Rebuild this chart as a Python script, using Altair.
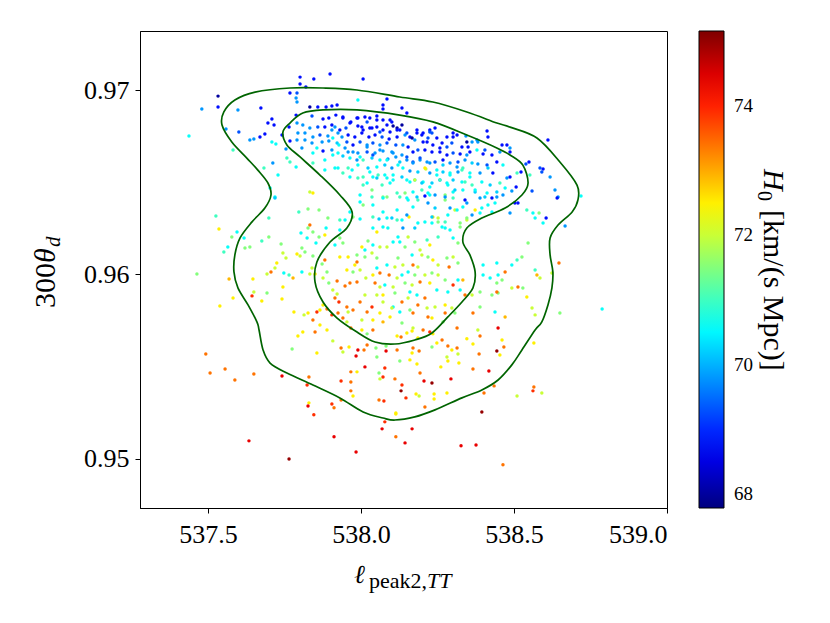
import altair as alt
import pandas as pd

# ---- sample points: (ell_peak2_TT, 300*theta_d, H0) ----
pts_upper_left = [
    (537.533, 0.96967, 68.0), (537.533, 0.96908, 68.8), (537.480, 0.96897, 69.8), (537.598, 0.96892, 69.8),
    (537.673, 0.96902, 68.8), (537.709, 0.96843, 68.8), (537.696, 0.96821, 68.8), (537.716, 0.96810, 68.8),
    (537.559, 0.96789, 69.8), (537.601, 0.96772, 69.3), (537.438, 0.96751, 70.6), (537.686, 0.96762, 68.8),
    (537.670, 0.96745, 68.8), (537.637, 0.96729, 69.8), (537.650, 0.96734, 69.8), (537.742, 0.96756, 68.8),
    (537.709, 0.96718, 70.6), (537.722, 0.96707, 70.6), (537.582, 0.96675, 71.0), (537.755, 0.96680, 69.8),
    (537.758, 0.96631, 71.0), (537.712, 0.96604, 69.8), (537.683, 0.96577, 71.0), (537.729, 0.96539, 70.6),
    (537.719, 0.96420, 70.6), (537.703, 0.96469, 70.6), (537.768, 0.96984, 68.8), (537.765, 0.96799, 68.8),
    (537.768, 0.96724, 68.8), (537.801, 0.97070, 68.8),
]

pts_top_band = [
    (537.899, 0.97087, 68.8), (537.846, 0.97060, 68.8), (538.007, 0.97060, 68.8), (537.801, 0.97033, 68.8),
    (537.820, 0.97016, 68.8), (537.791, 0.96984, 69.3), (537.788, 0.96957, 69.8), (537.791, 0.96935, 69.8),
    (537.990, 0.96946, 70.6), (538.085, 0.96951, 68.8), (537.833, 0.96908, 68.0), (537.859, 0.96908, 68.8),
    (537.886, 0.96908, 68.8), (537.905, 0.96913, 68.8), (537.922, 0.96919, 68.8), (538.072, 0.96919, 68.8),
    (538.072, 0.96897, 68.8), (537.788, 0.96864, 68.8), (537.840, 0.96859, 69.3), (537.876, 0.96843, 68.8),
    (537.895, 0.96848, 68.8), (537.918, 0.96864, 68.8), (537.941, 0.96848, 68.8), (537.967, 0.96827, 68.8),
    (537.990, 0.96848, 68.8), (538.013, 0.96854, 68.8), (538.029, 0.96848, 68.8), (538.052, 0.96859, 68.8),
    (538.072, 0.96837, 68.8), (538.095, 0.96837, 68.8), (538.105, 0.96805, 68.0), (538.118, 0.96794, 68.0),
    (537.791, 0.96821, 69.8), (537.810, 0.96810, 69.8), (537.833, 0.96794, 69.8), (537.859, 0.96799, 69.3),
    (537.882, 0.96799, 68.8), (537.905, 0.96783, 69.8), (537.931, 0.96783, 68.8), (537.951, 0.96794, 69.3),
    (537.990, 0.96805, 68.8), (538.007, 0.96783, 68.8), (538.029, 0.96794, 68.8), (538.052, 0.96799, 68.8),
    (538.072, 0.96783, 68.8), (538.095, 0.96772, 68.8), (537.794, 0.96767, 69.8), (537.817, 0.96767, 69.8),
    (537.843, 0.96745, 69.8), (537.866, 0.96756, 69.3), (537.892, 0.96751, 69.8), (537.908, 0.96740, 70.6),
    (537.938, 0.96745, 69.8), (537.958, 0.96756, 68.8), (537.980, 0.96745, 68.8), (538.003, 0.96767, 68.8),
    (538.026, 0.96745, 68.8), (538.046, 0.96756, 68.8), (538.069, 0.96745, 69.3), (538.092, 0.96734, 68.8),
    (538.118, 0.96745, 68.8), (537.791, 0.96729, 69.8), (537.817, 0.96729, 69.8), (537.840, 0.96713, 69.8),
    (537.873, 0.96718, 69.8), (537.895, 0.96724, 69.8), (537.928, 0.96702, 70.6), (537.954, 0.96718, 69.3),
    (537.974, 0.96702, 68.8), (537.997, 0.96718, 69.3), (538.020, 0.96702, 69.8), (538.039, 0.96713, 69.3),
    (538.062, 0.96702, 69.8), (538.085, 0.96713, 69.3), (538.114, 0.96702, 69.3), (537.807, 0.96686, 69.8),
    (537.856, 0.96686, 70.6), (537.876, 0.96669, 68.8), (537.905, 0.96675, 69.8), (537.925, 0.96659, 70.6),
    (537.958, 0.96664, 69.8), (537.990, 0.96659, 69.8), (538.020, 0.96664, 69.3), (538.046, 0.96659, 69.8),
    (538.072, 0.96669, 69.8), (538.101, 0.96664, 69.8), (537.843, 0.96659, 70.6), (537.882, 0.96621, 70.6),
    (537.908, 0.96648, 70.6), (537.941, 0.96642, 70.2), (537.964, 0.96631, 70.6), (537.987, 0.96621, 69.8),
    (538.007, 0.96621, 71.0), (538.036, 0.96631, 70.2), (538.062, 0.96621, 70.6), (538.088, 0.96626, 69.8),
    (538.114, 0.96637, 69.8), (537.768, 0.96610, 71.0), (537.788, 0.96583, 70.6), (537.843, 0.96604, 71.0),
    (537.882, 0.96566, 70.6), (537.925, 0.96577, 70.6), (537.958, 0.96577, 71.0), (537.990, 0.96594, 70.6),
    (538.023, 0.96577, 70.2), (538.052, 0.96583, 70.6), (538.078, 0.96594, 70.2), (538.101, 0.96577, 69.8),
    (538.121, 0.96594, 70.6), (537.964, 0.96528, 70.6), (537.990, 0.96523, 71.0), (538.039, 0.96528, 70.6),
    (538.056, 0.96539, 71.0), (538.085, 0.96523, 70.6), (538.105, 0.96539, 70.6), (538.020, 0.96496, 70.6),
    (538.069, 0.96485, 71.0), (538.095, 0.96496, 70.6), (537.833, 0.96447, 72.0), (537.843, 0.96442, 72.5),
    (537.997, 0.96431, 70.6), (538.036, 0.96420, 71.0), (538.085, 0.96420, 71.5), (538.127, 0.96420, 71.0),
]

pts_top_right = [
    (538.134, 0.96902, 68.8), (538.150, 0.96875, 68.8), (538.127, 0.96783, 68.8), (538.144, 0.96756, 69.8),
    (538.160, 0.96745, 68.8), (538.183, 0.96767, 68.8), (538.203, 0.96767, 68.8), (538.225, 0.96783, 68.8),
    (538.242, 0.96794, 68.8), (538.232, 0.96767, 69.3), (538.176, 0.96729, 69.8), (538.203, 0.96718, 68.8),
    (538.219, 0.96740, 69.3), (538.235, 0.96702, 68.8), (538.258, 0.96686, 68.8), (538.281, 0.96691, 69.3),
    (538.301, 0.96745, 68.8), (538.301, 0.96767, 68.8), (538.343, 0.96751, 69.8), (538.350, 0.96691, 68.8),
    (538.363, 0.96718, 69.8), (538.382, 0.96718, 69.8), (538.412, 0.96778, 68.8), (538.415, 0.96745, 68.8),
    (538.405, 0.96675, 69.3), (538.461, 0.96702, 68.8), (538.477, 0.96702, 68.8), (538.137, 0.96702, 69.8),
    (538.154, 0.96691, 68.8), (538.170, 0.96664, 68.8), (538.186, 0.96675, 69.3), (538.209, 0.96675, 68.8),
    (538.232, 0.96664, 68.8), (538.258, 0.96664, 68.8), (538.281, 0.96648, 68.8), (538.301, 0.96659, 69.3),
    (538.324, 0.96653, 68.8), (538.346, 0.96648, 69.8), (538.379, 0.96675, 70.6), (538.399, 0.96653, 68.8),
    (538.428, 0.96648, 68.8), (538.454, 0.96664, 69.8), (538.134, 0.96648, 69.8), (538.150, 0.96621, 69.8),
    (538.170, 0.96610, 69.3), (538.193, 0.96621, 69.8), (538.216, 0.96610, 69.8), (538.242, 0.96610, 69.3),
    (538.268, 0.96621, 68.8), (538.291, 0.96604, 69.8), (538.317, 0.96610, 69.3), (538.340, 0.96621, 69.8),
    (538.363, 0.96604, 70.2), (538.382, 0.96599, 69.8), (538.412, 0.96594, 69.3), (538.444, 0.96610, 68.8),
    (538.464, 0.96594, 70.6), (538.137, 0.96577, 70.6), (538.160, 0.96561, 69.8), (538.186, 0.96556, 70.2),
    (538.212, 0.96572, 72.0), (538.225, 0.96550, 69.8), (538.248, 0.96539, 70.6), (538.268, 0.96556, 70.2),
    (538.291, 0.96539, 70.6), (538.317, 0.96556, 69.8), (538.333, 0.96577, 71.0), (538.356, 0.96528, 70.6),
    (538.389, 0.96550, 69.8), (538.415, 0.96577, 70.2), (538.431, 0.96550, 68.8), (538.454, 0.96496, 71.0),
    (538.477, 0.96523, 69.8), (538.150, 0.96512, 70.6), (538.176, 0.96512, 70.6), (538.203, 0.96501, 70.6),
    (538.232, 0.96496, 70.2), (538.258, 0.96512, 69.8), (538.281, 0.96496, 70.6), (538.301, 0.96512, 70.2),
    (538.330, 0.96501, 70.6), (538.363, 0.96485, 71.0), (538.395, 0.96501, 70.6), (538.422, 0.96485, 70.2),
    (538.144, 0.96442, 71.5), (538.170, 0.96447, 70.6), (538.199, 0.96458, 71.0), (538.219, 0.96442, 70.6),
    (538.275, 0.96431, 71.5), (538.301, 0.96447, 70.6), (538.333, 0.96458, 70.6), (538.373, 0.96447, 70.2),
    (538.412, 0.96442, 70.6), (538.444, 0.96447, 70.2), (538.471, 0.96469, 70.6),
]

pts_far_right = [
    (538.611, 0.96729, 68.8), (538.487, 0.96686, 69.8), (538.487, 0.96664, 68.8), (538.539, 0.96599, 69.3),
    (538.549, 0.96610, 68.8), (538.585, 0.96577, 69.3), (538.595, 0.96572, 68.8), (538.591, 0.96556, 69.3),
    (538.618, 0.96528, 69.8), (538.523, 0.96556, 68.8), (538.510, 0.96550, 71.0), (538.552, 0.96539, 71.0),
    (538.487, 0.96528, 68.8), (538.507, 0.96474, 68.8), (538.493, 0.96453, 69.8), (538.559, 0.96453, 69.3),
    (538.634, 0.96458, 69.8), (538.644, 0.96420, 69.8), (538.719, 0.96425, 70.6),
]

pts_core = [
    (537.905, 0.96810, 68.8), (537.915, 0.96799, 69.8), (537.941, 0.96854, 68.8), (537.925, 0.96767, 69.8),
    (537.964, 0.96821, 68.8), (537.987, 0.96848, 68.8), (538.003, 0.96799, 68.8), (538.020, 0.96827, 69.3),
    (538.036, 0.96794, 68.8), (538.052, 0.96837, 68.8), (538.062, 0.96772, 69.3), (538.085, 0.96810, 68.8),
    (538.101, 0.96827, 68.8), (538.118, 0.96783, 68.8), (538.134, 0.96810, 68.0), (538.150, 0.96767, 69.3),
    (538.167, 0.96740, 68.0), (538.183, 0.96783, 68.8), (538.199, 0.96756, 68.8), (538.216, 0.96718, 68.8),
    (538.225, 0.96772, 69.3), (538.248, 0.96740, 68.8), (538.265, 0.96713, 68.8), (538.281, 0.96745, 68.8),
    (538.297, 0.96713, 69.3), (538.314, 0.96756, 68.8), (538.330, 0.96691, 68.8), (538.346, 0.96718, 68.0),
    (538.356, 0.96664, 68.8), (538.379, 0.96729, 69.8), (537.922, 0.96713, 70.2), (537.948, 0.96686, 69.8),
    (537.974, 0.96664, 69.8), (537.997, 0.96637, 70.6), (538.020, 0.96691, 69.8), (538.039, 0.96648, 69.3),
    (538.062, 0.96675, 69.8), (538.085, 0.96621, 70.6), (538.105, 0.96659, 69.8), (538.127, 0.96610, 70.2),
    (538.150, 0.96637, 69.3), (538.170, 0.96604, 69.8), (538.193, 0.96631, 69.3), (538.209, 0.96577, 72.5),
    (538.225, 0.96604, 69.8), (538.248, 0.96566, 70.6), (538.268, 0.96594, 70.2), (538.291, 0.96550, 70.6),
    (538.314, 0.96583, 69.8), (538.330, 0.96566, 71.0), (538.356, 0.96550, 70.6), (537.915, 0.96577, 70.6),
    (537.941, 0.96550, 71.0), (537.971, 0.96566, 70.6), (538.007, 0.96528, 71.0), (538.029, 0.96556, 70.6),
    (538.052, 0.96523, 70.2), (538.078, 0.96539, 70.6), (538.105, 0.96512, 70.6), (538.134, 0.96528, 70.2),
    (538.160, 0.96501, 70.6), (538.176, 0.96512, 72.0), (538.199, 0.96496, 70.2), (538.225, 0.96474, 70.6),
    (538.258, 0.96512, 71.0), (538.284, 0.96485, 70.6), (538.307, 0.96458, 70.2), (538.340, 0.96501, 71.0),
    (538.373, 0.96458, 70.6), (538.007, 0.96485, 71.0), (538.036, 0.96458, 71.5), (538.072, 0.96420, 71.5),
    (538.118, 0.96442, 71.0), (538.150, 0.96415, 70.6), (538.186, 0.96404, 71.0), (538.225, 0.96431, 70.6),
    (538.275, 0.96404, 71.5), (538.307, 0.96350, 72.0), (538.373, 0.96350, 72.5), (537.931, 0.96295, 71.0),
    (537.974, 0.96312, 71.5), (538.007, 0.96377, 71.5), (538.039, 0.96312, 71.0), (538.072, 0.96339, 70.6),
    (538.118, 0.96295, 71.0), (538.157, 0.96312, 72.5), (538.186, 0.96279, 70.6), (538.235, 0.96312, 72.5),
    (538.252, 0.96285, 71.5), (538.284, 0.96323, 70.6), (538.324, 0.96279, 71.5), (538.346, 0.96295, 72.0),
]

pts_mid_left = [
    (537.526, 0.96317, 71.0), (537.536, 0.96247, 72.5), (537.595, 0.96230, 70.6), (537.578, 0.96203, 71.5),
    (537.618, 0.96198, 70.6), (537.565, 0.96149, 70.6), (537.552, 0.96122, 71.0), (537.464, 0.96003, 71.5),
    (537.539, 0.95829, 72.5), (537.582, 0.95873, 72.5), (537.569, 0.95976, 72.9), (537.647, 0.95976, 72.5),
    (537.637, 0.96149, 71.5), (537.621, 0.96144, 71.5), (537.676, 0.96182, 71.0), (537.699, 0.96203, 71.5),
    (537.699, 0.96306, 71.0), (537.719, 0.96415, 70.2), (537.739, 0.96165, 71.5), (537.745, 0.96117, 72.0),
    (537.755, 0.96089, 72.0), (537.725, 0.96062, 72.5), (537.719, 0.96035, 72.0), (537.706, 0.96014, 73.4),
    (537.693, 0.96003, 72.0), (537.644, 0.95884, 73.9), (537.650, 0.95905, 72.0), (537.676, 0.95856, 72.5),
    (537.693, 0.95900, 71.5), (537.745, 0.95932, 72.5), (537.742, 0.95867, 72.5), (537.765, 0.95997, 71.0),
    (537.748, 0.96008, 70.6), (537.778, 0.95981, 72.9), (537.797, 0.96339, 71.0), (537.827, 0.96355, 71.5),
    (537.863, 0.96350, 71.5), (537.833, 0.96268, 73.4), (537.827, 0.96252, 71.5), (537.804, 0.96225, 70.6),
    (537.824, 0.96198, 70.6), (537.843, 0.96230, 71.5), (537.863, 0.96203, 71.5), (537.853, 0.96171, 70.6),
    (537.882, 0.96214, 72.5), (537.886, 0.96252, 70.6), (537.892, 0.96306, 71.5), (537.807, 0.96144, 71.5),
    (537.801, 0.96100, 72.0), (537.791, 0.96111, 72.5), (537.817, 0.96122, 71.5), (537.843, 0.96100, 71.5),
    (537.882, 0.96079, 73.4), (537.873, 0.96057, 71.5), (537.840, 0.96035, 72.0), (537.833, 0.96003, 72.0),
    (537.807, 0.96014, 70.6), (537.850, 0.96003, 72.5), (537.889, 0.96014, 71.5), (537.895, 0.95954, 71.5),
    (537.876, 0.95981, 72.0), (537.922, 0.95965, 73.4), (537.908, 0.95916, 72.0), (537.922, 0.95894, 72.0),
    (537.915, 0.95873, 73.4), (537.928, 0.95851, 73.9), (537.954, 0.95824, 73.4), (537.876, 0.95835, 72.5),
    (537.866, 0.95808, 72.5), (537.889, 0.95813, 73.4), (537.856, 0.95797, 73.9), (537.827, 0.95791, 72.5),
    (537.814, 0.95781, 72.0), (537.843, 0.95753, 73.4), (537.866, 0.95726, 72.5), (537.905, 0.95781, 73.9),
    (537.925, 0.95791, 73.4), (537.941, 0.95764, 73.4), (537.954, 0.95743, 72.0), (537.958, 0.95797, 72.0),
    (537.889, 0.95699, 72.5), (537.810, 0.95688, 72.5), (537.850, 0.95688, 73.4), (537.781, 0.95797, 72.5),
    (537.931, 0.96198, 71.5), (537.941, 0.96171, 71.5), (537.915, 0.96160, 70.6), (537.931, 0.96095, 72.5),
    (537.958, 0.96095, 72.5), (537.980, 0.96051, 72.5), (537.987, 0.96068, 73.4), (538.013, 0.96095, 71.5),
    (538.036, 0.96117, 72.0), (537.987, 0.96106, 71.5), (538.013, 0.96133, 70.6), (538.003, 0.96149, 72.5),
    (538.023, 0.96182, 71.5), (538.039, 0.96160, 70.6), (538.062, 0.96149, 72.0), (538.085, 0.96149, 72.0),
    (538.105, 0.96176, 70.6), (538.052, 0.96230, 72.5), (538.072, 0.96257, 70.6), (538.088, 0.96252, 70.6),
    (538.039, 0.96252, 70.6), (538.059, 0.96301, 70.2), (538.085, 0.96306, 70.6), (537.997, 0.96301, 70.6),
    (537.964, 0.96339, 70.6), (537.948, 0.96295, 70.6), (537.931, 0.96241, 70.6), (537.997, 0.96393, 70.6),
    (538.039, 0.96377, 70.6), (538.072, 0.96415, 70.6), (538.101, 0.96306, 70.2), (538.121, 0.96203, 70.6),
    (537.954, 0.96024, 72.5), (537.974, 0.96014, 71.5), (537.997, 0.96024, 72.0), (538.016, 0.95981, 72.0),
    (538.039, 0.95997, 72.5), (538.062, 0.96008, 73.4), (538.092, 0.95997, 73.4), (538.118, 0.95981, 72.0),
    (538.062, 0.95932, 72.0), (538.046, 0.95954, 73.4), (538.078, 0.95943, 70.6), (538.105, 0.95932, 72.0),
    (537.987, 0.95959, 73.4), (537.964, 0.95954, 73.4), (537.948, 0.95938, 73.4), (538.013, 0.95889, 72.0),
    (538.052, 0.95889, 72.0), (538.072, 0.95889, 72.5), (538.111, 0.95900, 71.5), (537.997, 0.95851, 73.4),
    (538.036, 0.95824, 73.9), (538.072, 0.95851, 72.0), (538.105, 0.95824, 70.6), (537.974, 0.95808, 73.4),
    (538.020, 0.95797, 73.4), (538.062, 0.95791, 72.5), (538.101, 0.95818, 72.0), (538.003, 0.95753, 72.0),
    (538.039, 0.95753, 72.5), (538.072, 0.95743, 72.9), (538.095, 0.95770, 72.5), (538.127, 0.95797, 70.6),
    (538.003, 0.95699, 72.5), (538.039, 0.95699, 73.4), (537.967, 0.95710, 73.4), (538.052, 0.96035, 70.6),
    (538.085, 0.96051, 70.6), (538.111, 0.96041, 72.0), (538.052, 0.96089, 71.5),
]

pts_mid_right = [
    (538.183, 0.96420, 70.2), (538.209, 0.96425, 68.8), (538.242, 0.96431, 69.8), (538.275, 0.96420, 69.8),
    (538.301, 0.96415, 71.0), (538.340, 0.96404, 68.8), (538.346, 0.96388, 69.8), (538.389, 0.96415, 69.8),
    (538.405, 0.96420, 70.2), (538.428, 0.96415, 68.8), (538.444, 0.96420, 69.8), (538.464, 0.96431, 69.8),
    (538.503, 0.96388, 68.8), (538.641, 0.96415, 68.8), (538.154, 0.96404, 70.6), (538.170, 0.96366, 70.6),
    (538.219, 0.96388, 69.8), (538.242, 0.96360, 70.2), (538.291, 0.96360, 69.8), (538.314, 0.96350, 70.6),
    (538.333, 0.96366, 70.6), (538.395, 0.96360, 70.6), (538.415, 0.96377, 70.6), (538.438, 0.96388, 70.6),
    (538.428, 0.96339, 70.6), (538.389, 0.96333, 70.6), (538.363, 0.96323, 69.8), (538.118, 0.96350, 70.6),
    (538.134, 0.96295, 70.6), (538.150, 0.96323, 69.8), (538.137, 0.96252, 69.8), (538.176, 0.96252, 70.2),
    (538.232, 0.96312, 70.2), (538.252, 0.96306, 72.0), (538.275, 0.96285, 71.0), (538.324, 0.96257, 71.5),
    (538.346, 0.96306, 71.5), (538.275, 0.96252, 70.6), (538.291, 0.96241, 70.6), (538.265, 0.96257, 70.6),
    (538.232, 0.96279, 70.6), (538.209, 0.96285, 70.6), (538.252, 0.96203, 71.0), (538.301, 0.96198, 70.6),
    (538.317, 0.96171, 71.5), (538.154, 0.96203, 72.0), (538.176, 0.96176, 71.5), (538.216, 0.96187, 71.0),
    (538.225, 0.96160, 72.5), (538.127, 0.96176, 70.6), (538.144, 0.96149, 71.5), (538.193, 0.96133, 72.0),
    (538.167, 0.96106, 70.6), (538.199, 0.96106, 72.0), (538.219, 0.96095, 71.5), (538.235, 0.96079, 72.5),
    (538.252, 0.96051, 72.0), (538.281, 0.96089, 71.5), (538.301, 0.96095, 72.0), (538.317, 0.96062, 71.5),
    (538.288, 0.96041, 73.4), (538.121, 0.96089, 71.5), (538.137, 0.96051, 72.0), (538.170, 0.96051, 73.4),
    (538.186, 0.96041, 72.0), (538.154, 0.96014, 70.6), (538.134, 0.95997, 70.6), (538.176, 0.95997, 71.5),
    (538.209, 0.95997, 72.0), (538.232, 0.96008, 71.5), (538.252, 0.95997, 72.0), (538.275, 0.95970, 71.5),
    (538.301, 0.95943, 73.9), (538.317, 0.95970, 70.6), (538.333, 0.95970, 72.9), (538.144, 0.95954, 71.5),
    (538.167, 0.95943, 72.0), (538.193, 0.95959, 73.4), (538.225, 0.95954, 72.5), (538.248, 0.95916, 70.6),
    (538.284, 0.95905, 70.6), (538.324, 0.95916, 70.6), (538.340, 0.95889, 73.4), (538.363, 0.95889, 72.0),
    (538.160, 0.95905, 70.6), (538.183, 0.95889, 70.6), (538.209, 0.95873, 73.4), (538.134, 0.95851, 73.4),
    (538.154, 0.95873, 72.0), (538.186, 0.95835, 73.4), (538.216, 0.95818, 72.0), (538.242, 0.95824, 72.0),
    (538.275, 0.95835, 72.5), (538.297, 0.95818, 72.0), (538.275, 0.95791, 73.4), (538.307, 0.95791, 71.5),
    (538.160, 0.95808, 71.5), (538.170, 0.95791, 73.4), (538.232, 0.95764, 72.5), (538.268, 0.95743, 71.5),
    (538.219, 0.95770, 73.4), (538.134, 0.95737, 71.5), (538.170, 0.95710, 72.0), (538.203, 0.95699, 73.4),
    (538.225, 0.95688, 73.9), (538.314, 0.95710, 73.4), (538.366, 0.95791, 73.4), (538.389, 0.95824, 71.5),
    (538.438, 0.95797, 70.6), (538.448, 0.95900, 71.5), (538.428, 0.95889, 71.5), (538.444, 0.95905, 73.4),
    (538.389, 0.95905, 71.5), (538.448, 0.95997, 70.6), (538.444, 0.95954, 71.5), (538.471, 0.96014, 73.4),
    (538.444, 0.96062, 70.6), (538.399, 0.96051, 70.6), (538.399, 0.95997, 70.6), (538.422, 0.95981, 70.6),
    (538.461, 0.95970, 71.5), (538.493, 0.95927, 72.0), (538.513, 0.95932, 73.4), (538.529, 0.95927, 71.5),
    (538.542, 0.95878, 72.5), (538.559, 0.95818, 72.0), (538.569, 0.95781, 72.0), (538.650, 0.95791, 71.5),
    (538.788, 0.95813, 70.6), (538.448, 0.95710, 74.4), (538.471, 0.95770, 72.9), (538.493, 0.96051, 70.6),
    (538.510, 0.96079, 71.0), (538.526, 0.96095, 71.5), (538.546, 0.96171, 71.5), (538.569, 0.96024, 71.0),
    (538.575, 0.95997, 72.9), (538.585, 0.95981, 72.0), (538.647, 0.96062, 73.4), (538.624, 0.96008, 72.0),
    (538.562, 0.96333, 70.6), (538.582, 0.96333, 71.5), (538.569, 0.96306, 70.6), (538.605, 0.96306, 68.8),
    (538.595, 0.96279, 70.6), (538.667, 0.96263, 69.8), (538.542, 0.96350, 71.0), (538.487, 0.96333, 69.8),
    (538.513, 0.96388, 68.8),
]

pts_low_left = [
    (537.493, 0.95569, 73.4), (537.507, 0.95466, 73.4), (537.556, 0.95488, 73.4), (537.588, 0.95428, 73.4),
    (537.650, 0.95461, 73.4), (537.742, 0.95450, 74.4), (537.830, 0.95444, 73.4), (537.824, 0.95401, 73.9),
    (537.794, 0.95667, 72.5), (537.775, 0.95596, 71.5), (537.856, 0.95574, 72.5), (537.908, 0.95640, 72.0),
    (537.935, 0.95602, 73.4), (537.941, 0.95580, 72.0), (537.961, 0.95607, 72.5), (537.990, 0.95591, 74.4),
    (537.984, 0.95558, 74.4), (538.010, 0.95591, 73.4), (538.020, 0.95618, 73.4), (538.049, 0.95602, 71.5),
    (538.052, 0.95553, 71.5), (538.082, 0.95585, 74.4), (538.082, 0.95612, 71.5), (538.118, 0.95591, 73.4),
    (538.118, 0.95667, 72.5), (538.020, 0.95678, 71.5), (538.013, 0.95499, 74.4), (537.967, 0.95472, 73.4),
    (537.987, 0.95472, 72.5), (537.935, 0.95423, 73.9), (537.967, 0.95417, 73.4), (538.059, 0.95466, 71.5),
    (538.078, 0.95493, 73.9), (538.072, 0.95444, 73.9), (538.062, 0.95434, 72.0), (538.111, 0.95434, 73.4),
    (537.967, 0.95369, 73.4), (537.974, 0.95341, 72.5), (537.935, 0.95320, 73.4), (537.830, 0.95304, 72.5),
    (537.827, 0.95287, 74.4), (537.905, 0.95298, 73.9), (537.912, 0.95277, 73.4), (537.846, 0.95239, 73.9),
    (538.059, 0.95320, 73.4), (538.075, 0.95314, 73.9), (538.114, 0.95244, 72.5), (538.078, 0.95201, 73.9),
    (538.069, 0.95163, 74.4), (538.114, 0.95120, 73.4), (537.912, 0.95120, 74.4), (537.984, 0.95038, 74.4),
    (537.634, 0.95098, 74.4), (537.765, 0.95000, 75.0),
]

pts_low_right = [
    (538.131, 0.95661, 73.4), (538.150, 0.95683, 72.5), (538.167, 0.95694, 72.5), (538.186, 0.95656, 72.5),
    (538.235, 0.95678, 72.5), (538.265, 0.95645, 73.4), (538.248, 0.95629, 72.5), (538.284, 0.95612, 73.4),
    (538.314, 0.95602, 73.4), (538.297, 0.95591, 72.5), (538.346, 0.95651, 72.5), (538.366, 0.95623, 72.5),
    (538.389, 0.95667, 73.4), (538.382, 0.95699, 72.0), (538.461, 0.95645, 72.5), (538.467, 0.95607, 73.4),
    (538.444, 0.95585, 75.0), (538.454, 0.95564, 72.5), (538.565, 0.95629, 72.5), (538.170, 0.95602, 73.4),
    (538.190, 0.95585, 73.4), (538.232, 0.95607, 71.5), (538.167, 0.95574, 72.5), (538.127, 0.95531, 71.5),
    (538.160, 0.95537, 72.5), (538.183, 0.95515, 72.5), (538.281, 0.95553, 72.0), (538.284, 0.95531, 72.5),
    (538.317, 0.95569, 72.0), (538.320, 0.95520, 72.5), (538.261, 0.95499, 72.5), (538.386, 0.95569, 73.4),
    (538.366, 0.95488, 73.4), (538.418, 0.95477, 74.4), (538.193, 0.95466, 73.4), (538.134, 0.95401, 73.9),
    (538.206, 0.95423, 74.4), (538.232, 0.95412, 75.0), (538.294, 0.95434, 74.4), (538.131, 0.95369, 75.0),
    (538.147, 0.95331, 73.9), (538.180, 0.95352, 72.5), (538.190, 0.95341, 72.0), (538.239, 0.95352, 72.5),
    (538.239, 0.95325, 72.5), (538.281, 0.95358, 72.5), (538.209, 0.95282, 73.4), (538.402, 0.95358, 73.4),
    (538.435, 0.95396, 73.4), (538.510, 0.95341, 72.0), (538.565, 0.95390, 73.4), (538.562, 0.95369, 73.9),
    (538.591, 0.95358, 72.0), (538.395, 0.95255, 75.0), (538.114, 0.95249, 72.5), (538.167, 0.95163, 74.4),
    (538.144, 0.95087, 74.4), (538.327, 0.95071, 74.4), (538.376, 0.95076, 74.4), (538.464, 0.94968, 73.4),
]

# ---- contour lines ----
outer_ell = [537.768, 537.876, 537.987, 538.127, 538.235, 538.346, 538.444, 538.487, 538.575, 538.650,
             538.706, 538.709, 538.690, 538.644, 538.618, 538.618, 538.627, 538.624, 538.611, 538.591,
             538.569, 538.526, 538.493, 538.448, 538.395, 538.330, 538.242, 538.176, 538.111, 538.072,
             538.007, 537.931, 537.843, 537.758, 537.703, 537.680, 537.667, 537.660, 537.631, 537.598,
             537.585, 537.588, 537.605, 537.644, 537.686, 537.706, 537.696, 537.663, 537.627, 537.578,
             537.546, 537.552, 537.588, 537.654]
outer_theta = [0.97011, 0.97011, 0.97000, 0.96962, 0.96935, 0.96881, 0.96821, 0.96799, 0.96740, 0.96610,
               0.96485, 0.96404, 0.96339, 0.96268, 0.96198, 0.96106, 0.96014, 0.95927, 0.95835, 0.95743,
               0.95699, 0.95591, 0.95510, 0.95428, 0.95374, 0.95331, 0.95266, 0.95228, 0.95211, 0.95222,
               0.95255, 0.95331, 0.95401, 0.95466, 0.95520, 0.95591, 0.95699, 0.95743, 0.95835, 0.95927,
               0.96014, 0.96106, 0.96198, 0.96285, 0.96360, 0.96431, 0.96496, 0.96566, 0.96631, 0.96718,
               0.96810, 0.96881, 0.96946, 0.96989]
inner_ell = [537.768, 537.810, 537.876, 537.987, 538.127, 538.235, 538.346, 538.444, 538.487, 538.529,
             538.546, 538.526, 538.471, 538.395, 538.346, 538.333, 538.356, 538.373, 538.366, 538.330,
             538.284, 538.232, 538.176, 538.111, 538.046, 537.987, 537.922, 537.876, 537.850, 537.856,
             537.899, 537.954, 537.971, 537.931, 537.866, 537.801, 537.758, 537.745]
inner_theta = [0.96821, 0.96875, 0.96892, 0.96892, 0.96864, 0.96827, 0.96756, 0.96686, 0.96648, 0.96593,
               0.96496, 0.96431, 0.96360, 0.96306, 0.96252, 0.96176, 0.96106, 0.96014, 0.95927, 0.95851,
               0.95770, 0.95683, 0.95645, 0.95623, 0.95634, 0.95688, 0.95764, 0.95851, 0.95959, 0.96068,
               0.96176, 0.96252, 0.96339, 0.96431, 0.96539, 0.96637, 0.96702, 0.96772]

x_ticks = [537.5, 538.0, 538.5, 539.0]
y_ticks = [0.95, 0.96, 0.97]
cbar_ticks = [68, 70, 72, 74]
jet_stops = [67.78, 68.70, 69.625, 70.55, 71.47, 72.39, 73.31, 74.24, 75.16]
jet_colors = ["#00007f", "#0000ff", "#007fff", "#00ffff", "#7fff7f", "#ffff00", "#ff7f00", "#ff0000", "#7f0000"]

# ---- build tables ----
all_pts = (pts_upper_left + pts_top_band + pts_top_right + pts_far_right + pts_core
           + pts_mid_left + pts_mid_right + pts_low_left + pts_low_right)
scatter_df = pd.DataFrame(all_pts, columns=["ell", "theta", "H0"])

contour_df = pd.concat([
    pd.DataFrame({"ell": outer_ell, "theta": outer_theta, "level": "outer", "idx": range(len(outer_ell))}),
    pd.DataFrame({"ell": inner_ell, "theta": inner_theta, "level": "inner", "idx": range(len(inner_ell))}),
])

SERIF = "Liberation Serif, DejaVu Serif, serif"

x_enc = alt.X("ell:Q", scale=alt.Scale(domain=[537.278, 539.0], nice=False, zero=False),
              axis=alt.Axis(values=x_ticks, format=".1f", title=None))
y_enc = alt.Y("theta:Q", scale=alt.Scale(domain=[0.94734, 0.97320], nice=False, zero=False),
              axis=alt.Axis(values=y_ticks, format=".2f", title=None))

scatter = alt.Chart(scatter_df).mark_circle(size=12, opacity=1).encode(
    x=x_enc,
    y=y_enc,
    color=alt.Color(
        "H0:Q",
        scale=alt.Scale(domain=jet_stops, range=jet_colors, interpolate="rgb"),
        legend=alt.Legend(
            orient="none", legendX=559, legendY=0, direction="vertical",
            gradientLength=477, gradientThickness=25, title=None,
            values=cbar_ticks, labelFontSize=19, labelFont=SERIF, labelColor="black",
            labelOffset=10, gradientStrokeColor="black", gradientStrokeWidth=1,
        ),
    ),
)

contours = alt.Chart(contour_df).mark_line(
    color="#006400", strokeWidth=1.7, interpolate="cardinal-closed"
).encode(
    x="ell:Q", y="theta:Q", detail="level:N", order=alt.Order("idx:Q"),
)


def label(text, x, y, size, angle=0, italic=False, font=SERIF, align="left"):
    return alt.Chart(alt.Data(values=[{"k": 1}])).mark_text(
        text=text, font=font, fontSize=size, angle=angle, align=align,
        baseline="alphabetic", color="black", fontStyle="italic" if italic else "normal",
    ).encode(x=alt.value(x), y=alt.value(y))


titles = [
    # x axis title: ell_{peak2,TT}
    label("ℓ", 214, 552, 26, italic=True, font="DejaVu Serif"),
    label("peak2,", 229, 557, 22),
    label("TT", 287, 557, 22, italic=True),
    # y axis title: 300 theta_d (rotated)
    label("300", -85, 277, 30, angle=270),
    label("θ", -85, 232, 30, angle=270, italic=True),
    label("d", -80, 216, 21, angle=270, italic=True),
    # colorbar title: H_0 [km/(s Mpc)] (rotated)
    label("H", 624, 138, 30, angle=90, italic=True),
    label("0", 618, 160, 20, angle=90),
    label("[km/(s Mpc)]", 624, 179, 30, angle=90),
]

chart = alt.layer(scatter, contours, *titles).properties(
    width=527, height=477,
    autosize=alt.AutoSizeParams(type="none"),
    padding={"left": 132, "top": 23, "right": 140, "bottom": 90},
).configure_view(
    stroke="black", strokeWidth=1,
).configure_axis(
    grid=False, domainColor="black", domainWidth=1, tickColor="black", tickWidth=1,
    tickSize=5, labelFont=SERIF, labelFontSize=26, labelColor="black", labelPadding=6,
).configure_axisX(labelPadding=8)

chart.save("out.html", embed_options={"renderer": "svg", "actions": False})
